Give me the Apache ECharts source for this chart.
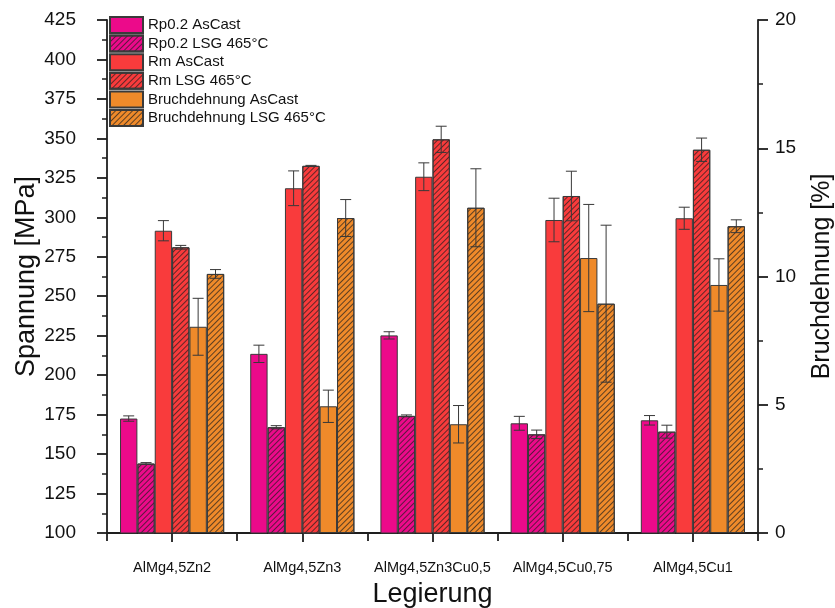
<!DOCTYPE html>
<html>
<head>
<meta charset="utf-8">
<script src="https://cdn.jsdelivr.net/npm/echarts@6/dist/echarts.min.js"></script>
<style>
html,body{margin:0;padding:0;background:#fff;}
#chart{width:835px;height:608px;}
</style>
</head>
<body>
<div id="chart"></div>
<script>
const categories = ['AlMg4,5Zn2', 'AlMg4,5Zn3', 'AlMg4,5Zn3Cu0,5', 'AlMg4,5Cu0,75', 'AlMg4,5Cu1'];
const seriesNames = ['Rp0.2 AsCast', 'Rp0.2 LSG 465°C', 'Rm AsCast', 'Rm LSG 465°C', 'Bruchdehnung AsCast', 'Bruchdehnung LSG 465°C'];

const rpAsCast     = [172.5, 213.5, 225.2, 169.5, 171.4];
const rpAsCastErr  = [1.7, 5.5, 2.3, 4.4, 3.0];
const rpLSG        = [144.0, 167.0, 174.2, 162.5, 164.2];
const rpLSGErr     = [0.6, 1.0, 0.6, 2.7, 4.1];
const rmAsCast     = [291.5, 318.4, 325.7, 298.3, 299.4];
const rmAsCastErr  = [6.4, 11.0, 8.8, 13.8, 7.0];
const rmLSG        = [281.0, 332.6, 349.4, 313.5, 342.8];
const rmLSGErr     = [1.2, 0.3, 8.3, 15.7, 7.4];
const bdAsCast     = [8.04, 4.94, 4.24, 10.72, 9.67];
const bdAsCastErr  = [1.11, 0.63, 0.73, 2.09, 1.02];
const bdLSG        = [10.1, 12.28, 12.68, 8.94, 11.96];
const bdLSGErr     = [0.17, 0.72, 1.52, 3.06, 0.25];

const leftTicks = { min: 100, max: 425, interval: 25 };
const rightTicks = { min: 0, max: 20, interval: 5 };

const values = [rpAsCast, rpLSG, rmAsCast, rmLSG, bdAsCast, bdLSG];
const errors = [rpAsCastErr, rpLSGErr, rmAsCastErr, rmLSGErr, bdAsCastErr, bdLSGErr];
const colors = ['#EC0A8A', '#EC0A8A', '#F93B3C', '#F93B3C', '#EF8A2A', '#EF8A2A'];
const hatched = [false, true, false, true, false, true];
const axisIdx = [0, 0, 0, 0, 1, 1];

const FONT = 'Liberation Sans, Arial, sans-serif';
const GAP = 0.2;
const N = 6;

const hatch = {
  symbol: 'rect',
  symbolSize: 1,
  color: 'rgba(30,30,30,0.7)',
  dashArrayX: [1, 0],
  dashArrayY: [1, 3],
  rotation: -Math.PI / 4
};

const series = [];
for (let i = 0; i < N; i++) {
  const st = { color: colors[i], borderColor: '#3a3a3a', borderWidth: 1 };
  if (hatched[i]) st.decal = hatch;
  series.push({
    name: seriesNames[i],
    type: 'bar',
    yAxisIndex: axisIdx[i],
    barGap: '0%',
    barCategoryGap: (GAP * 100) + '%',
    itemStyle: st,
    data: values[i],
    z: 2
  });
}
for (let i = 0; i < N; i++) {
  const idx = i;
  series.push({
    name: seriesNames[i] + ' err',
    type: 'custom',
    yAxisIndex: axisIdx[i],
    z: 5,
    silent: true,
    encode: { x: 0, y: [1, 2] },
    data: values[i].map((v, k) => [k, v - errors[i][k], v + errors[i][k]]),
    renderItem: function (params, api) {
      const x = api.value(0);
      const lo = api.coord([x, api.value(1)]);
      const hi = api.coord([x, api.value(2)]);
      const band = api.size([1, 0])[0];
      const bw = band * (1 - GAP) / N;
      const cx = lo[0] + (idx - (N - 1) / 2) * bw;
      const hw = 5.5;
      const style = { stroke: '#383838', lineWidth: 1 };
      return {
        type: 'group',
        children: [
          { type: 'line', shape: { x1: cx, y1: lo[1], x2: cx, y2: hi[1] }, style: style },
          { type: 'line', shape: { x1: cx - hw, y1: lo[1], x2: cx + hw, y2: lo[1] }, style: style },
          { type: 'line', shape: { x1: cx - hw, y1: hi[1], x2: cx + hw, y2: hi[1] }, style: style }
        ]
      };
    }
  });
}

const axisLineStyle = { color: '#1e1e1e', width: 1.8 };

const option = {
  animation: false,
  backgroundColor: '#ffffff',
  textStyle: { fontFamily: FONT },
  grid: { left: 107, right: 77, top: 20, bottom: 75, containLabel: false, outerBoundsMode: 'none' },
  legend: {
    data: seriesNames,
    orient: 'vertical',
    left: 109,
    top: 16,
    padding: 0,
    itemWidth: 33,
    itemHeight: 16,
    itemGap: 0.6,
    icon: 'rect',
    textStyle: { fontSize: 15, lineHeight: 16, color: '#111', fontFamily: FONT }
  },
  xAxis: [
    {
      type: 'category',
      data: categories,
      boundaryGap: true,
      axisLine: { show: true, lineStyle: axisLineStyle },
      axisTick: { show: true, alignWithLabel: true, inside: false, length: 9, lineStyle: { width: 1.8, color: '#1e1e1e' } },
      axisLabel: { fontSize: 14.5, color: '#111', margin: 27, fontFamily: FONT, interval: 0 },
      splitLine: { show: false },
      name: 'Legierung',
      nameLocation: 'middle',
      nameGap: 48,
      nameTextStyle: { fontSize: 27, color: '#111', fontFamily: FONT }
    },
    {
      type: 'category',
      data: categories,
      position: 'bottom',
      boundaryGap: true,
      axisLine: { show: false },
      axisTick: { show: true, inside: false, length: 8, lineStyle: { width: 1.8, color: '#1e1e1e' } },
      axisLabel: { show: false },
      splitLine: { show: false }
    }
  ],
  yAxis: [
    {
      type: 'value',
      position: 'left',
      min: leftTicks.min,
      max: leftTicks.max,
      interval: leftTicks.interval,
      axisLine: { show: true, lineStyle: axisLineStyle },
      axisTick: { show: true, inside: false, length: 10, lineStyle: { width: 1.8, color: '#1e1e1e' } },
      minorTick: { show: true, splitNumber: 2, length: 5, lineStyle: { width: 1.5, color: '#1e1e1e' } },
      axisLabel: { fontSize: 19, color: '#111', margin: 31, fontFamily: FONT },
      splitLine: { show: false },
      name: 'Spannung [MPa]',
      nameLocation: 'middle',
      nameGap: 67,
      nameMoveOverlap: false,
      nameTextStyle: { fontSize: 27, color: '#111', fontFamily: FONT }
    },
    {
      type: 'value',
      position: 'right',
      min: rightTicks.min,
      max: rightTicks.max,
      interval: rightTicks.interval,
      axisLine: { show: true, lineStyle: axisLineStyle },
      axisTick: { show: true, inside: false, length: 10, lineStyle: { width: 1.8, color: '#1e1e1e' } },
      minorTick: { show: true, splitNumber: 2, length: 5, lineStyle: { width: 1.5, color: '#1e1e1e' } },
      axisLabel: { fontSize: 19, color: '#111', margin: 17, fontFamily: FONT },
      splitLine: { show: false },
      name: 'Bruchdehnung [%]',
      nameLocation: 'middle',
      nameGap: 52,
      nameTextStyle: { fontSize: 25, color: '#111', fontFamily: FONT }
    }
  ],
  series: series
};

const chart = echarts.init(document.getElementById('chart'), null, { renderer: 'canvas' });
chart.setOption(option);
</script>
</body>
</html>
